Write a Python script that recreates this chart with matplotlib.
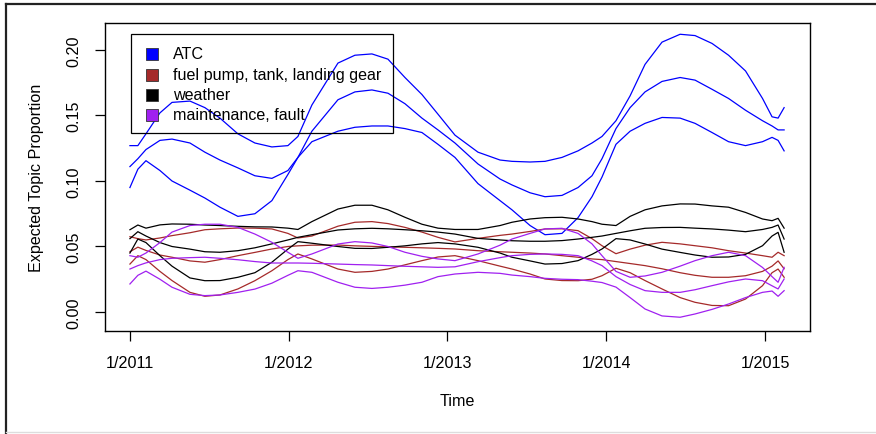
import matplotlib
matplotlib.use("Agg")
import matplotlib.pyplot as plt
from matplotlib.patches import Rectangle
from matplotlib.lines import Line2D

plt.rcParams['font.family'] = ['Liberation Sans', 'DejaVu Sans']

# time in decimal years
time = [2011.000, 2011.050, 2011.101, 2011.189, 2011.265, 2011.378, 2011.472, 2011.567,
        2011.680, 2011.787, 2011.894, 2011.995, 2012.058, 2012.146, 2012.310, 2012.417,
        2012.524, 2012.625, 2012.732, 2012.839, 2012.940, 2013.047, 2013.192, 2013.331,
        2013.406, 2013.520, 2013.614, 2013.721, 2013.822, 2013.910, 2013.973, 2014.061,
        2014.150, 2014.244, 2014.351, 2014.465, 2014.559, 2014.666, 2014.770, 2014.877,
        2014.984, 2015.044, 2015.082, 2015.120]

# ATC: upper, mean, lower
atc_upper = [0.127, 0.127, 0.136, 0.152, 0.160, 0.161, 0.156, 0.148, 0.136, 0.129, 0.126,
             0.127, 0.134, 0.158, 0.190, 0.196, 0.197, 0.193, 0.179, 0.166, 0.151, 0.135,
             0.122, 0.116, 0.115, 0.1145, 0.115, 0.118, 0.123, 0.129, 0.134, 0.146, 0.165,
             0.189, 0.206, 0.212, 0.211, 0.205, 0.196, 0.184, 0.163, 0.149, 0.148, 0.156]
atc_mean = [0.111, 0.117, 0.124, 0.131, 0.132, 0.129, 0.122, 0.116, 0.110, 0.104, 0.102,
            0.108, 0.118, 0.138, 0.162, 0.168, 0.1695, 0.167, 0.159, 0.148, 0.139, 0.129,
            0.113, 0.1015, 0.097, 0.091, 0.088, 0.089, 0.095, 0.104, 0.117, 0.140, 0.156,
            0.168, 0.176, 0.179, 0.177, 0.170, 0.163, 0.154, 0.146, 0.142, 0.139, 0.139]
atc_lower = [0.095, 0.109, 0.1155, 0.108, 0.100, 0.093, 0.087, 0.080, 0.073, 0.075, 0.085,
             0.105, 0.118, 0.130, 0.138, 0.141, 0.142, 0.142, 0.140, 0.137, 0.128, 0.118,
             0.098, 0.085, 0.078, 0.066, 0.059, 0.060, 0.072, 0.088, 0.103, 0.128, 0.138,
             0.144, 0.1485, 0.148, 0.144, 0.137, 0.130, 0.127, 0.130, 0.1333, 0.131, 0.123]

# fuel pump, tank, landing gear
fuel_upper = [0.0575, 0.056, 0.055, 0.0565, 0.0583, 0.0605, 0.0628, 0.0635, 0.0641, 0.064,
              0.0634, 0.060, 0.0565, 0.058, 0.0655, 0.0685, 0.069, 0.0675, 0.0646, 0.061,
              0.057, 0.0535, 0.0562, 0.0585, 0.0595, 0.0615, 0.0634, 0.0635, 0.0621, 0.056,
              0.0506, 0.0445, 0.048, 0.051, 0.0532, 0.052, 0.0506, 0.049, 0.0468, 0.045,
              0.043, 0.0418, 0.0456, 0.043]
fuel_mean = [0.046, 0.0495, 0.047, 0.0435, 0.0418, 0.039, 0.038, 0.040, 0.043, 0.0455,
             0.0481, 0.050, 0.0505, 0.051, 0.0511, 0.0505, 0.0501, 0.0497, 0.0494, 0.049,
             0.0486, 0.0481, 0.0468, 0.046, 0.0456, 0.045, 0.0443, 0.043, 0.0418, 0.0405,
             0.040, 0.0385, 0.037, 0.0354, 0.033, 0.030, 0.028, 0.0265, 0.0265, 0.0277,
             0.031, 0.035, 0.039, 0.033]
fuel_lower = [0.0366, 0.043, 0.040, 0.031, 0.024, 0.015, 0.012, 0.013, 0.0176, 0.0239,
              0.0315, 0.040, 0.0443, 0.0405, 0.0328, 0.0303, 0.031, 0.0328, 0.036, 0.0392,
              0.042, 0.043, 0.0392, 0.035, 0.0328, 0.029, 0.0252, 0.024, 0.0239, 0.025,
              0.0277, 0.0334, 0.030, 0.024, 0.0176, 0.011, 0.0074, 0.005, 0.0048, 0.0099,
              0.0201, 0.030, 0.0328, 0.0265]

# weather
weather_upper = [0.0628, 0.0664, 0.064, 0.0665, 0.0672, 0.067, 0.0664, 0.066, 0.0654, 0.065,
                 0.0649, 0.064, 0.063, 0.069, 0.0786, 0.0815, 0.0815, 0.078, 0.0723, 0.067,
                 0.064, 0.063, 0.063, 0.066, 0.0685, 0.071, 0.072, 0.0723, 0.071, 0.069,
                 0.067, 0.066, 0.073, 0.078, 0.081, 0.0825, 0.0824, 0.081, 0.080, 0.076,
                 0.071, 0.0697, 0.0715, 0.064]
weather_mean = [0.056, 0.0613, 0.058, 0.053, 0.050, 0.048, 0.046, 0.0456, 0.0468, 0.049,
                0.052, 0.055, 0.057, 0.059, 0.0626, 0.0635, 0.0639, 0.0635, 0.0628, 0.062,
                0.061, 0.0595, 0.0562, 0.055, 0.0544, 0.054, 0.054, 0.0545, 0.0557, 0.057,
                0.058, 0.060, 0.062, 0.0639, 0.0645, 0.0646, 0.064, 0.0634, 0.0625, 0.0613,
                0.063, 0.0646, 0.0664, 0.0557]
weather_lower = [0.045, 0.0557, 0.053, 0.043, 0.035, 0.026, 0.0239, 0.024, 0.0265, 0.030,
                 0.038, 0.048, 0.0537, 0.0525, 0.050, 0.0486, 0.0485, 0.0494, 0.0505, 0.052,
                 0.053, 0.052, 0.0494, 0.045, 0.0418, 0.039, 0.0366, 0.037, 0.0392, 0.044,
                 0.0481, 0.056, 0.055, 0.0519, 0.048, 0.0455, 0.0435, 0.0418, 0.042, 0.044,
                 0.0506, 0.058, 0.0608, 0.0456]

# maintenance, fault
maint_upper = [0.043, 0.0418, 0.045, 0.053, 0.061, 0.066, 0.067, 0.067, 0.0646, 0.0595,
               0.0532, 0.0456, 0.041, 0.0443, 0.0519, 0.0537, 0.0527, 0.050, 0.0456, 0.0425,
               0.0405, 0.0392, 0.0443, 0.051, 0.0557, 0.060, 0.0634, 0.0639, 0.060, 0.052,
               0.043, 0.031, 0.0265, 0.0275, 0.0303, 0.035, 0.0392, 0.043, 0.0456, 0.043,
               0.034, 0.027, 0.0227, 0.0341]
maint_mean = [0.0328, 0.0354, 0.0375, 0.040, 0.041, 0.0415, 0.0418, 0.041, 0.0399, 0.0385,
              0.0374, 0.0374, 0.0374, 0.0372, 0.0366, 0.0362, 0.0359, 0.0354, 0.0349, 0.0345,
              0.0341, 0.0345, 0.0384, 0.0415, 0.043, 0.044, 0.0443, 0.044, 0.043, 0.039,
              0.0354, 0.027, 0.021, 0.0163, 0.015, 0.015, 0.017, 0.0201, 0.023, 0.0252,
              0.0239, 0.020, 0.0176, 0.0252]
maint_lower = [0.0214, 0.028, 0.0312, 0.025, 0.0189, 0.0135, 0.0125, 0.013, 0.015, 0.0175,
               0.022, 0.028, 0.0315, 0.0303, 0.0227, 0.0189, 0.018, 0.0189, 0.0205, 0.0227,
               0.027, 0.029, 0.0303, 0.0295, 0.0282, 0.027, 0.0257, 0.025, 0.0247, 0.0235,
               0.0225, 0.019, 0.011, 0.0023, -0.003, -0.004, -0.0015, 0.002, 0.0061, 0.011,
               0.015, 0.016, 0.012, 0.0163]

topics = ['ATC', 'fuel pump, tank, landing gear', 'weather', 'maintenance, fault']
colors = ['#0000FF', '#A52A2A', '#000000', '#A020F0']
series = [
    (atc_upper, atc_mean, atc_lower),
    (fuel_upper, fuel_mean, fuel_lower),
    (weather_upper, weather_mean, weather_lower),
    (maint_upper, maint_mean, maint_lower),
]

tick_years = [2011, 2012, 2013, 2014, 2015]
tick_labels = ['1/2011', '1/2012', '1/2013', '1/2014', '1/2015']
y_ticks = [0.00, 0.05, 0.10, 0.15, 0.20]

W, H = 876, 435
fig = plt.figure(figsize=(W / 100, H / 100), dpi=100)
ax = fig.add_axes([105 / W, 1 - 332 / H, 705 / W, 308 / H])

for (up, mid, lo), c in zip(series, colors):
    for s in (up, mid, lo):
        ax.plot(time, s, color=c, lw=0.9)

ax.set_xlim(2010.843, 2015.283)
ax.set_ylim(-0.0145, 0.2206)

fs = 11.6
ax.set_xticks(tick_years)
ax.set_xticklabels(tick_labels, fontsize=fs)
ax.set_yticks(y_ticks)
ax.set_yticklabels(['%.2f' % v for v in y_ticks], fontsize=fs, rotation=90, va='center')
ax.tick_params(axis='both', length=7.2, width=0.9, pad=10, color='black')
for sp in ax.spines.values():
    sp.set_linewidth(1.0)

ax.set_xlabel('Time', fontsize=fs, labelpad=17)
ax.set_ylabel('Expected Topic Proportion', fontsize=fs, labelpad=16)

# legend drawn in axes coordinates (box, squares, labels)
def ax_x(px):
    return (px - 105) / 705

def ax_y(py):
    return (332 - py) / 308

ax.add_patch(Rectangle((ax_x(131), ax_y(134)), ax_x(393) - ax_x(131), ax_y(35) - ax_y(134),
                       transform=ax.transAxes, fill=True, facecolor='none',
                       edgecolor='black', lw=0.9, zorder=5))
row_y = [55, 75.5, 96, 116]
for lab, c, ry in zip(topics, colors, row_y):
    ax.add_patch(Rectangle((ax_x(146), ax_y(ry + 6)), 12 / 705, 12 / 308,
                           transform=ax.transAxes, facecolor=c, edgecolor='#333333',
                           lw=0.6, zorder=6))
    ax.text(ax_x(173), ax_y(ry), lab, transform=ax.transAxes, fontsize=fs,
            va='center', ha='left', zorder=6)

# outer frame of the screenshot
fig.add_artist(Line2D([6 / W, 1], [1 - 5 / H, 1 - 5 / H], transform=fig.transFigure,
                      color='#222222', lw=1.6))
fig.add_artist(Line2D([6 / W, 6 / W], [0, 1 - 5 / H], transform=fig.transFigure,
                      color='#222222', lw=1.6))
fig.add_artist(Line2D([6 / W, 1], [1 - 433 / H, 1 - 433 / H], transform=fig.transFigure,
                      color='#dddddd', lw=1.0))

fig.savefig('out.png', dpi=100)
